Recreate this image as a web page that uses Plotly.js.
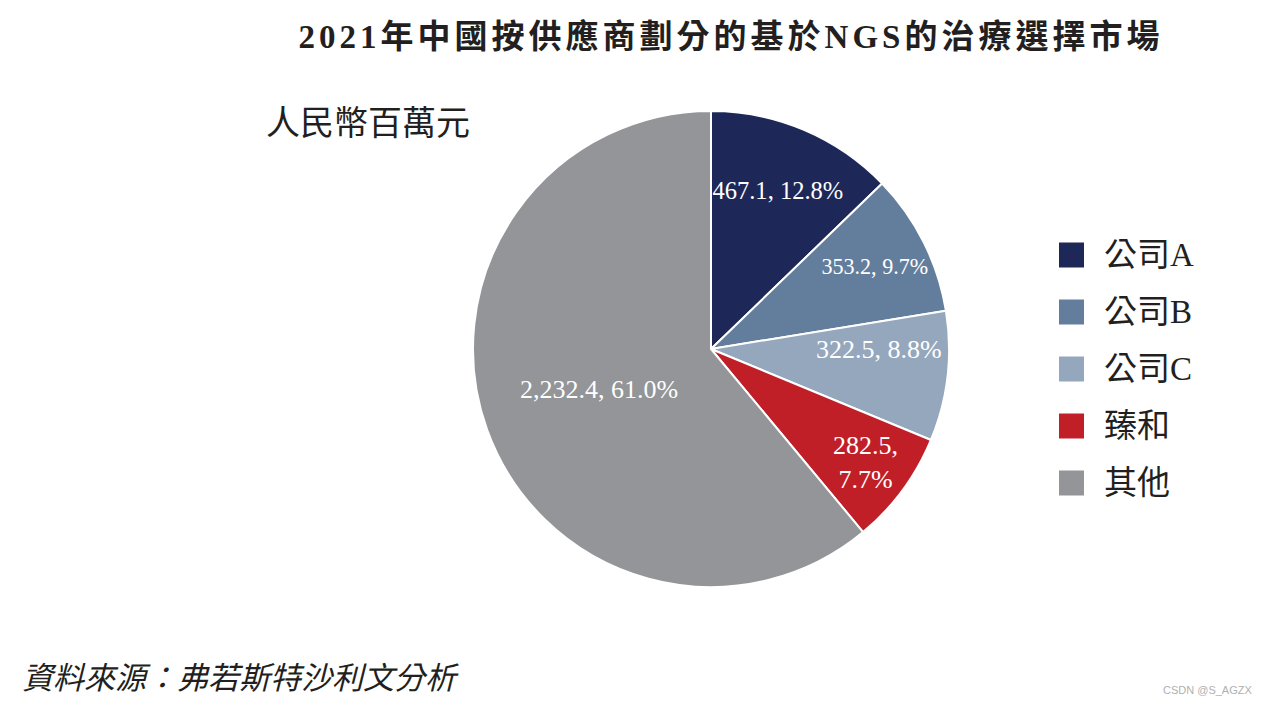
<!DOCTYPE html>
<html>
<head>
<meta charset="utf-8">
<script src="https://cdn.plot.ly/plotly-3.0.1.min.js"></script>
<style>
html,body{margin:0;padding:0;background:#fff;}
#chart{width:1269px;height:706px;}
.gtitle{letter-spacing:4px;}
</style>
</head>
<body>
<div id="chart"></div>
<script>
// Data
const categories = ["公司A", "公司B", "公司C", "臻和", "其他"];
const values = [467.1, 353.2, 322.5, 282.5, 2232.4];
const colors = ["#1e2858", "#637d9c", "#95a7bd", "#c11f27", "#939598"];
const titleText = "2021年中國按供應商劃分的基於NGS的治療選擇市場";
const unitText = "人民幣百萬元";
const sourceText = "資料來源：弗若斯特沙利文分析";

const W = 1269, H = 706;
const px = x => x / W;
const py = y => 1 - y / H;

const serif = "'Liberation Serif', 'Times New Roman', 'Noto Sans CJK TC', serif";

const templates = categories.map((c, i) =>
  c === "臻和" ? "%{value:,.1f},<br>%{percent:.1%}" : "%{value:,.1f}, %{percent:.1%}");

const trace = {
  type: "pie",
  labels: categories,
  values: values,
  sort: false,
  direction: "clockwise",
  rotation: 0,
  marker: {colors: colors, line: {color: "#ffffff", width: 2}},
  texttemplate: templates,
  textposition: "inside",
  insidetextorientation: "horizontal",
  textfont: {family: serif, size: 26, color: "#ffffff"},
  hoverinfo: "label+value+percent",
  domain: {x: [px(473), px(949)], y: [py(587), py(111)]},
  showlegend: false
};

const shapes = [];
const annotations = [];
categories.forEach((c, i) => {
  const cy = 255 + i * 57;
  shapes.push({type: "rect", xref: "paper", yref: "paper",
    x0: px(1059), x1: px(1084), y0: py(cy + 12.5), y1: py(cy - 12.5),
    fillcolor: colors[i], line: {width: 0}});
  annotations.push({xref: "paper", yref: "paper", x: px(1102), y: py(cy),
    xanchor: "left", yanchor: "middle", showarrow: false, text: c,
    font: {family: serif, size: 33, color: "#231f20"}});
});
annotations.push({xref: "paper", yref: "paper", x: px(264), y: py(123),
  xanchor: "left", yanchor: "middle", showarrow: false, text: unitText,
  font: {family: serif, size: 34, color: "#231f20"}});
annotations.push({xref: "paper", yref: "paper", x: px(20), y: py(678),
  xanchor: "left", yanchor: "middle", showarrow: false,
  text: "<i>" + sourceText + "</i>",
  font: {family: serif, size: 31, color: "#231f20"}});
annotations.push({xref: "paper", yref: "paper", x: px(1254), y: py(690),
  xanchor: "right", yanchor: "middle", showarrow: false, text: "CSDN @S_AGZX",
  font: {family: "'Liberation Sans', Arial, sans-serif", size: 11, color: "#b0b0b0"}});

const layout = {
  width: W, height: H,
  margin: {l: 0, r: 0, t: 0, b: 0},
  paper_bgcolor: "#ffffff",
  title: {text: "<b>" + titleText + "</b>", x: px(731), xanchor: "center",
    y: py(36), yanchor: "middle",
    font: {family: serif, size: 33, color: "#231f20"}},
  shapes: shapes,
  annotations: annotations,
  showlegend: false
};

Plotly.newPlot("chart", [trace], layout, {displayModeBar: false, staticPlot: true});
</script>
</body>
</html>
